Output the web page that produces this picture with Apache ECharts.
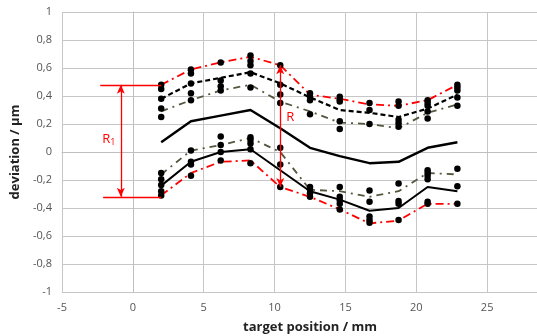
<!DOCTYPE html>
<html>
<head>
<meta charset="utf-8">
<script src="https://cdn.jsdelivr.net/npm/echarts@6.0.0/dist/echarts.min.js"></script>
<style>
    html, body { margin: 0; padding: 0; background: #fff; }
    #chart { width: 537px; height: 336px; }
</style>
</head>
<body>
<div id="chart"></div>
<script>
// target positions (mm)
const positions = [2.0, 4.1, 6.2, 8.3, 10.4, 12.5, 14.6, 16.7, 18.75, 20.8, 22.9];

// curves (µm)
const redUpper = [0.48, 0.59, 0.64, 0.68, 0.62, 0.41, 0.38, 0.34, 0.33, 0.37, 0.48];
const dashUpper = [0.38, 0.49, 0.53, 0.57, 0.49, 0.39, 0.30, 0.28, 0.25, 0.31, 0.41];
const oliveUpper = [0.29, 0.37, 0.44, 0.48, 0.36, 0.29, 0.21, 0.20, 0.17, 0.28, 0.34];
const meanLine = [0.07, 0.22, 0.26, 0.30, 0.17, 0.03, -0.03, -0.08, -0.07, 0.03, 0.07];
const oliveLower = [-0.16, 0.01, 0.05, 0.10, 0.0, -0.27, -0.28, -0.32, -0.28, -0.15, -0.16];
const solidLower = [-0.24, -0.07, 0.0, 0.02, -0.13, -0.28, -0.34, -0.42, -0.40, -0.25, -0.28];
const redLower = [-0.31, -0.15, -0.07, -0.06, -0.25, -0.32, -0.41, -0.51, -0.49, -0.37, -0.37];

// measured points, one list per position
const dotsUpper = [
    [0.48, 0.45, 0.38, 0.31, 0.25],
    [0.59, 0.56, 0.49, 0.42, 0.37],
    [0.64, 0.51, 0.47, 0.44],
    [0.69, 0.65, 0.62, 0.56, 0.46],
    [0.62, 0.48, 0.41, 0.35],
    [0.42, 0.395, 0.37, 0.27],
    [0.395, 0.375, 0.36, 0.22, 0.165],
    [0.35, 0.30, 0.20],
    [0.36, 0.33, 0.23, 0.205, 0.18],
    [0.37, 0.35, 0.33, 0.29, 0.24],
    [0.48, 0.46, 0.44, 0.39, 0.33],
];
const dotsLower = [
    [-0.15, -0.195, -0.235, -0.28, -0.31],
    [0.01, -0.07, -0.09, -0.17],
    [0.11, 0.05, 0.0, -0.06],
    [0.105, 0.085, 0.06, 0.02, -0.08],
    [0.03, -0.09, -0.25],
    [-0.25, -0.27, -0.295, -0.32],
    [-0.25, -0.32, -0.345, -0.37, -0.41],
    [-0.275, -0.355, -0.46, -0.485, -0.505],
    [-0.225, -0.35, -0.37, -0.485],
    [-0.13, -0.15, -0.17, -0.195, -0.355, -0.37],
    [-0.12, -0.245, -0.37],
];

const xTicks = { min: -5, max: 30, interval: 5 };
const yTicks = { min: -1, max: 1, interval: 0.2 };

const FONT = 'Open Sans';
const RED = '#ff0000';
const OLIVE = '#56563f';

const pairs = (vals) => vals.map((v, i) => [positions[i], v]);
const dotData = [];
positions.forEach((x, i) => {
    dotsUpper[i].forEach((v) => dotData.push([x, v]));
    dotsLower[i].forEach((v) => dotData.push([x, v]));
});

function lineSeries(name, vals, color, type, width) {
    return {
        name: name,
        type: 'line',
        data: pairs(vals),
        symbol: 'none',
        silent: true,
        lineStyle: { color: color, width: width || 2, type: type },
        z: 2,
    };
}

const chart = echarts.init(document.getElementById('chart'));

const option = {
    animation: false,
    grid: { left: 62, right: -21, top: 12, bottom: 44, outerBoundsMode: 'none' },
    xAxis: {
        type: 'value',
        min: xTicks.min,
        max: xTicks.max,
        interval: xTicks.interval,
        name: 'target position / mm',
        nameLocation: 'middle',
        nameGap: 29,
        nameTextStyle: { fontFamily: FONT, fontWeight: 'bold', fontSize: 13, color: '#222' },
        axisLine: { lineStyle: { color: '#bfbfbf' } },
        axisTick: { show: false },
        axisLabel: { fontFamily: FONT, fontSize: 11, color: '#555', margin: 10 },
        splitLine: { show: true, lineStyle: { color: '#c6c6c6' } },
    },
    yAxis: {
        type: 'value',
        min: yTicks.min,
        max: yTicks.max,
        interval: yTicks.interval,
        name: 'deviation / µm',
        nameLocation: 'middle',
        nameGap: 33,
        nameTextStyle: { fontFamily: FONT, fontWeight: 'bold', fontSize: 13, color: '#222' },
        axisLine: { show: true, lineStyle: { color: '#bfbfbf' } },
        axisTick: { show: false },
        axisLabel: {
            fontFamily: FONT,
            fontSize: 11,
            color: '#555',
            margin: 10,
            formatter: (v) => String(Math.round(v * 10) / 10).replace('.', ','),
        },
        splitLine: { show: true, lineStyle: { color: '#c6c6c6' } },
    },
    series: [
        lineSeries('max', redUpper, RED, [8, 4, 2, 4], 1.8),
        lineSeries('upper', dashUpper, '#000', [5, 3], 2.2),
        lineSeries('upper2', oliveUpper, OLIVE, [7, 5, 2, 5], 1.8),
        lineSeries('mean', meanLine, '#000', 'solid', 2.4),
        lineSeries('lower2', oliveLower, OLIVE, [7, 5, 2, 5], 1.8),
        lineSeries('lower', solidLower, '#000', 'solid', 2),
        lineSeries('min', redLower, RED, [8, 4, 2, 4], 1.8),
        {
            name: 'points',
            type: 'scatter',
            data: dotData,
            symbol: 'circle',
            symbolSize: 6.5,
            silent: true,
            itemStyle: { color: '#000', opacity: 1 },
            z: 3,
        },
        {
            name: 'annotations',
            type: 'line',
            data: [],
            silent: true,
            markLine: {
                silent: true,
                animation: false,
                label: { show: false },
                lineStyle: { color: RED, width: 1.3, type: 'solid' },
                symbolSize: [6, 9],
                data: [
                    [{ coord: [-2.3, 0.48], symbol: 'none' }, { coord: [2.0, 0.48], symbol: 'none' }],
                    [{ coord: [-2.1, -0.32], symbol: 'none' }, { coord: [2.0, -0.32], symbol: 'none' }],
                    [{ coord: [-0.85, 0.48], symbol: 'arrow' }, { coord: [-0.85, -0.32], symbol: 'arrow' }],
                    [{ coord: [10.4, 0.62], symbol: 'arrow' }, { coord: [10.4, -0.25], symbol: 'arrow' }],
                ],
            },
            markPoint: {
                silent: true,
                animation: false,
                symbol: 'circle',
                symbolSize: 1,
                itemStyle: { color: 'rgba(0,0,0,0)' },
                label: {
                    show: true,
                    position: 'inside',
                    color: RED,
                    fontFamily: FONT,
                    fontSize: 13,
                    rich: {
                        m: { color: RED, fontFamily: FONT, fontSize: 13, lineHeight: 16 },
                        s: { color: RED, fontFamily: FONT, fontSize: 9, lineHeight: 16, verticalAlign: 'bottom', padding: [8, 0, 0, 0] },
                    },
                },
                data: [
                    { coord: [-1.7, 0.09], label: { formatter: '{m|R}{s|1}' } },
                    { coord: [11.1, 0.25], label: { formatter: '{m|R}' } },
                ],
            },
        },
    ],
};

chart.setOption(option);
</script>
</body>
</html>
